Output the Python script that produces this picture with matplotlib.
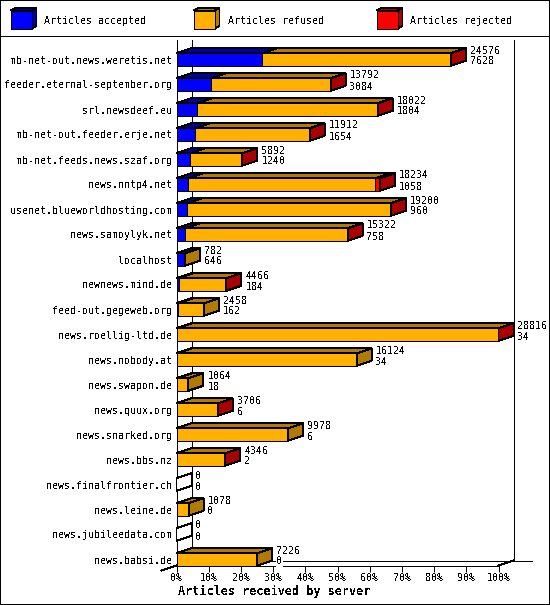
import matplotlib
matplotlib.use('Agg')
import matplotlib.pyplot as plt
from matplotlib.patches import Polygon, Rectangle

plt.rcParams['text.antialiased'] = False
plt.rcParams['font.family'] = 'DejaVu Sans Mono'
plt.rcParams['path.snap'] = True

W, H = 550, 605
LW = 0.7

servers = ['mb-net-out.news.weretis.net', 'feeder.eternal-september.org', 'srl.newsdeef.eu',
           'mb-net-out.feeder.erje.net', 'mb-net.feeds.news.szaf.org', 'news.nntp4.net',
           'usenet.blueworldhosting.com', 'news.samoylyk.net', 'localhost', 'newnews.mind.de',
           'feed-out.gegeweb.org', 'news.roellig-ltd.de', 'news.nobody.at', 'news.swapon.de',
           'news.quux.org', 'news.snarked.org', 'news.bbs.nz', 'news.finalfrontier.ch',
           'news.leine.de', 'news.jubileedata.com', 'news.babsi.de']
offered = [24576, 13792, 18022, 11912, 5892, 18234, 19200, 15322, 782, 4466, 2458,
           28816, 16124, 1064, 3706, 9978, 4346, 0, 1078, 0, 7226]
accepted = [7628, 3084, 1804, 1654, 1240, 1058, 960, 758, 646, 184, 162,
            34, 34, 18, 6, 6, 2, 0, 0, 0, 0]
# rejected is only readable as a sliver on the front face, so these are estimates
rejected = [60, 60, 60, 60, 60, 450, 60, 60, 0, 30, 0, 50, 0, 0, 20, 0, 20, 0, 0, 0, 0]
refused = [16888, 10648, 16158, 10198, 4592, 16726, 18180, 14504, 136, 4252, 2296,
           28732, 16090, 1046, 3680, 9972, 4324, 0, 1078, 0, 7226]
legend_labels = ['Articles accepted', 'Articles refused', 'Articles rejected']
tick_values = [0, 10, 20, 30, 40, 50, 60, 70, 80, 90, 100]

face_colors = ['#0000ff', '#ffb000', '#ff0000']
dark_colors = ['#0000aa', '#b27b00', '#aa0000']

# Figure edge is half clipped by the canvas, which leaves a 1px border.
fig = plt.figure(figsize=(W / 100, H / 100), dpi=100, facecolor='white',
                 edgecolor='black', linewidth=1.44)
fig.patch.set_antialiased(False)

# Pixel layer for the legend.
frame = fig.add_axes([0, 0, 1, 1])
frame.set_xlim(0, W)
frame.set_ylim(H, 0)
frame.axis('off')
frame.plot([0, W], [35.5, 35.5], color='black', lw=LW, aa=False)

for x_sw, x_txt, label, face, dark in zip([10.5, 193.5, 376.5], [44.5, 227.5, 410.5],
                                          legend_labels, face_colors, dark_colors):
    x2 = x_sw + 21
    frame.add_patch(Polygon([(x_sw, 10.5), (x_sw + 5, 8), (x2 + 5, 8), (x2, 10.5)],
                            fc=dark, ec='black', lw=LW, aa=False))
    frame.add_patch(Polygon([(x2, 10.5), (x2 + 5, 8), (x2 + 5, 26), (x2, 28.5)],
                            fc=dark, ec='black', lw=LW, aa=False))
    frame.add_patch(Rectangle((x_sw, 10.5), 21, 18, fc=face, ec='black', lw=LW, aa=False))
    frame.text(x_txt, 21, label, fontsize=7.2, va='center', ha='left', color='black')

frame.text(274.5, 591.5, 'Articles received by server', fontsize=8.45, fontweight='bold',
           ha='center', va='center', color='black')

# Chart axes: x is percent of the biggest server, y is the row number.
ax = fig.add_axes([176.5 / W, (H - 565.5) / H, 322 / W, 525.5 / H])
ax.patch.set_visible(False)
ax.set_xlim(0, 100)
ylim_bottom = (565.5 - 59.5) / 25
ylim_top = (40 - 59.5) / 25
ax.set_ylim(ylim_bottom, ylim_top)

DX = 15 / 3.22
DY = 5 / 25
HALF = 6.2 / 25
scale = 100 / max(offered)

for s in ['top', 'right']:
    ax.spines[s].set_visible(False)
for s in ['left', 'bottom']:
    ax.spines[s].set_linewidth(LW)
    ax.spines[s].set_antialiased(False)
ax.set_xticks(tick_values)
ax.set_xticklabels([f'{v}%' for v in tick_values], fontsize=7.2)
ax.set_yticks(range(len(servers)))
ax.set_yticklabels(servers, fontsize=7.2)
ax.tick_params(axis='x', length=4.2, width=LW, pad=1.5)
ax.tick_params(axis='y', length=0, pad=3.2)

# Back wall and floor of the fake 3D box.
wall = dict(color='black', lw=LW, aa=False, clip_on=False, zorder=1)
ax.plot([DX, DX], [ylim_top, ylim_bottom - DY], **wall)
ax.plot([100 + DX, 100 + DX], [ylim_top, ylim_bottom - DY], **wall)
ax.plot([DX, 110.4], [ylim_bottom - DY, ylim_bottom - DY], **wall)
ax.plot([-DX, DX], [ylim_bottom + DY, ylim_bottom - DY], **wall)
ax.plot([100, 100 + DX], [ylim_bottom, ylim_bottom - DY], **wall)

edge = dict(ec='black', lw=LW, aa=False, clip_on=False, zorder=3)
for row in range(len(servers)):
    y_top, y_bot = row - HALF, row + HALF
    start = 0
    side_color = 'white'
    for values, face, dark in zip([accepted, refused, rejected], face_colors, dark_colors):
        if values[row] == 0:
            continue
        end = start + values[row] * scale
        ax.add_patch(Polygon([(start, y_top), (start + DX, y_top - DY),
                              (end + DX, y_top - DY), (end, y_top)], fc=dark, **edge))
        ax.add_patch(Rectangle((start, y_top), end - start, y_bot - y_top, fc=face, **edge))
        start = end
        side_color = dark
    ax.add_patch(Polygon([(start, y_bot), (start + DX, y_bot - DY),
                          (start + DX, y_top - DY), (start, y_top)], fc=side_color, **edge))
    x_label = start + 19 / 3.22
    box = dict(fc='white', ec='none', pad=0.5)
    ax.text(x_label, row - 9 / 25, str(offered[row]), fontsize=7.2, va='center', ha='left',
            bbox=box, zorder=4, clip_on=False)
    ax.text(x_label, row + 2 / 25, str(accepted[row]), fontsize=7.2, va='center', ha='left',
            bbox=box, zorder=4, clip_on=False)

fig.savefig('out.png', dpi=100)
